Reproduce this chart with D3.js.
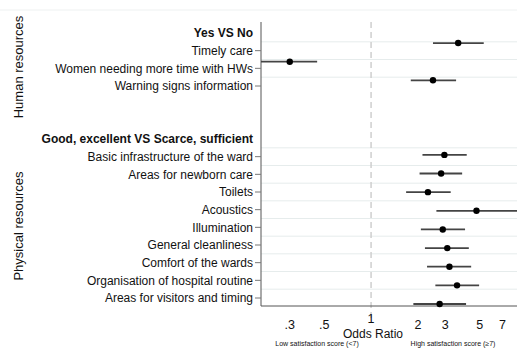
<!DOCTYPE html>
<html>
<head>
<meta charset="UTF-8">
<title>Odds ratio forest plot</title>
<script src="https://d3js.org/d3.v7.min.js"></script>
<style>
    body { margin: 0; background: #fff; }
    text { font-family: "Liberation Sans", Arial, sans-serif; fill: #111; }
</style>
</head>
<body>
<script>
// rows of the y axis, top to bottom ("" = empty spacer row)
const rowLabels = [
    "Yes VS No", "Timely care", "Women needing more time with HWs", "Warning signs information",
    "", " ",
    "Good, excellent VS Scarce, sufficient", "Basic infrastructure of the ward", "Areas for newborn care",
    "Toilets", "Acoustics", "Illumination", "General cleanliness", "Comfort of the wards",
    "Organisation of hospital routine", "Areas for visitors and timing"
];
const headerRows = ["Yes VS No", "Good, excellent VS Scarce, sufficient"];
const groupNames = ["Human resources", "Physical resources"];
const groupFirst = ["Yes VS No", "Good, excellent VS Scarce, sufficient"];
const groupLast = ["Warning signs information", "Areas for visitors and timing"];

const items = [
    "Timely care", "Women needing more time with HWs", "Warning signs information",
    "Basic infrastructure of the ward", "Areas for newborn care", "Toilets", "Acoustics",
    "Illumination", "General cleanliness", "Comfort of the wards",
    "Organisation of hospital routine", "Areas for visitors and timing"
];
const oddsRatio = [3.63, 0.30, 2.50, 2.96, 2.82, 2.32, 4.76, 2.89, 3.09, 3.19, 3.57, 2.76];
const ciLow     = [2.50, 0.19, 1.80, 2.14, 2.05, 1.68, 2.63, 2.09, 2.22, 2.29, 2.59, 1.87];
const ciHigh    = [5.30, 0.45, 3.52, 4.12, 3.85, 3.25, 9.00, 4.02, 4.25, 4.40, 4.95, 4.08];

const xTicks = [0.3, 0.5, 1, 2, 3, 5, 7];
const xTickLabels = [".3", ".5", "1", "2", "3", "5", "7"];

const width = 517, height = 350;
const plotLeft = 261, plotRight = 517, plotTop = 22, plotBottom = 306;

const svg = d3.select("body").append("svg").attr("width", width).attr("height", height);

const x = d3.scaleLog().domain([0.196, 9]).range([plotLeft, 519.5]);
const rowIndex = d => rowLabels.indexOf(d);
const yLabel = d3.scaleLinear().domain([0, rowLabels.length - 1]).range([33, 298]);
const yPoint = d3.scaleLinear().domain([0, rowLabels.length - 1]).range([24.4, 304]);

// faint top frame
svg.append("line").attr("x1", 0).attr("x2", width).attr("y1", 10).attr("y2", 10)
    .attr("stroke", "#eef1f1");

// gridlines between rows of each group
const grid = [];
groupFirst.forEach((f, g) => {
    for (let r = rowIndex(f); r < rowIndex(groupLast[g]); r++) grid.push(r + 0.5);
});
svg.append("g").selectAll("line").data(grid).join("line")
    .attr("x1", plotLeft).attr("x2", plotRight)
    .attr("y1", d => yLabel(d)).attr("y2", d => yLabel(d))
    .attr("stroke", "#e6ecec").attr("stroke-width", 1);

// reference line at OR = 1
svg.append("line")
    .attr("x1", x(1)).attr("x2", x(1)).attr("y1", plotTop).attr("y2", 318)
    .attr("stroke", "#cfcfcf").attr("stroke-width", 1.5).attr("stroke-dasharray", "6,4");

// y axis
svg.append("line").attr("x1", plotLeft).attr("x2", plotLeft)
    .attr("y1", plotTop).attr("y2", plotBottom).attr("stroke", "#555");

svg.append("g").selectAll("line").data(items).join("line")
    .attr("x1", plotLeft - 6).attr("x2", plotLeft)
    .attr("y1", d => yLabel(rowIndex(d))).attr("y2", d => yLabel(rowIndex(d)))
    .attr("stroke", "#777");

svg.append("g").selectAll("text").data(rowLabels.filter(d => d.trim() !== "")).join("text")
    .attr("x", plotLeft - 8).attr("y", d => yLabel(rowIndex(d)))
    .attr("dy", "0.35em").attr("text-anchor", "end")
    .attr("font-size", 12)
    .attr("font-weight", d => headerRows.includes(d) ? "bold" : "normal")
    .text(d => d);

// group titles
groupNames.forEach((name, g) => {
    const cy = g === 0 ? 67 : 226;
    svg.append("text")
        .attr("transform", `translate(18,${cy}) rotate(-90)`)
        .attr("dy", "0.35em").attr("text-anchor", "middle")
        .attr("font-size", 13).text(name);
});

// x axis
svg.append("line").attr("x1", plotLeft).attr("x2", plotRight)
    .attr("y1", plotBottom).attr("y2", plotBottom).attr("stroke", "#555");

svg.append("g").selectAll("text").data(xTicks).join("text")
    .attr("x", d => x(d))
    .attr("y", d => d === 1 ? 319 : 325)
    .attr("dy", "0.35em").attr("text-anchor", "middle")
    .attr("font-size", 12.5)
    .text((d, i) => xTickLabels[i]);

svg.append("text").attr("x", 373).attr("y", 334).attr("dy", "0.35em")
    .attr("text-anchor", "middle").attr("font-size", 12).text("Odds Ratio");

svg.append("text").attr("x", 317).attr("y", 344).attr("dy", "0.35em")
    .attr("text-anchor", "middle").attr("font-size", 7).attr("fill", "#333")
    .text("Low satisfaction score (<7)");
svg.append("text").attr("x", 453).attr("y", 344).attr("dy", "0.35em")
    .attr("text-anchor", "middle").attr("font-size", 7).attr("fill", "#333")
    .text("High satisfaction score (\u22657)");

// confidence intervals and estimates
svg.append("clipPath").attr("id", "plot").append("rect")
    .attr("x", plotLeft).attr("y", 0).attr("width", plotRight - plotLeft).attr("height", height);

const marks = svg.append("g").attr("clip-path", "url(#plot)");
marks.selectAll("line").data(items).join("line")
    .attr("x1", (d, i) => x(ciLow[i])).attr("x2", (d, i) => x(ciHigh[i]))
    .attr("y1", d => yPoint(rowIndex(d))).attr("y2", d => yPoint(rowIndex(d)))
    .attr("stroke", "#444").attr("stroke-width", 1.8);

marks.selectAll("circle").data(items).join("circle")
    .attr("cx", (d, i) => x(oddsRatio[i])).attr("cy", d => yPoint(rowIndex(d)))
    .attr("r", 3.2).attr("fill", "#000");
</script>
</body>
</html>
